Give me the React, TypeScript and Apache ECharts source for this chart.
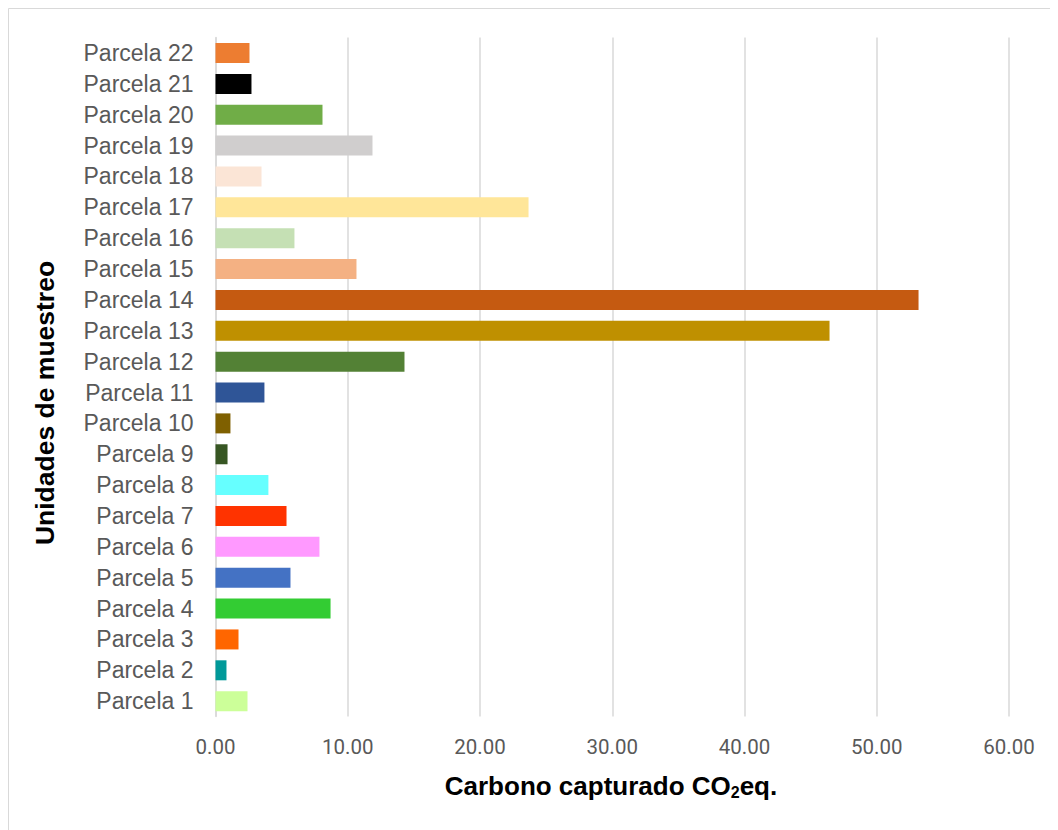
import React, { useEffect, useRef } from "react";
import * as echarts from "echarts";

const categories = [
  "Parcela 1", "Parcela 2", "Parcela 3", "Parcela 4", "Parcela 5", "Parcela 6",
  "Parcela 7", "Parcela 8", "Parcela 9", "Parcela 10", "Parcela 11", "Parcela 12",
  "Parcela 13", "Parcela 14", "Parcela 15", "Parcela 16", "Parcela 17", "Parcela 18",
  "Parcela 19", "Parcela 20", "Parcela 21", "Parcela 22",
];
const values = [
  2.42, 0.83, 1.74, 8.7, 5.67, 7.86, 5.37, 4.0, 0.91, 1.13, 3.7, 14.29,
  46.43, 53.16, 10.66, 5.97, 23.67, 3.48, 11.87, 8.09, 2.72, 2.57,
];
const colors = [
  "#CCFF99", "#009999", "#FF6600", "#33CC33", "#4472C4", "#FF99FF",
  "#FF3300", "#66FFFF", "#375623", "#7F6000", "#2F5597", "#538135",
  "#BF9000", "#C55A11", "#F4B183", "#C5E0B4", "#FFE699", "#FBE5D6",
  "#D0CECE", "#70AD47", "#000000", "#ED7D31",
];
const xTitle = "Carbono capturado CO";
const yTitle = "Unidades de muestreo";

export default function App() {
  const ref = useRef<HTMLDivElement>(null);
  useEffect(() => {
    if (!ref.current) return;
    const chart = echarts.init(ref.current, null, { renderer: "svg" });
    chart.setOption({
      animation: false,
      backgroundColor: "#ffffff",
      grid: { left: 207.5, top: 29.6, width: 793.5, height: 679, containLabel: false },
      xAxis: {
        type: "value",
        min: 0,
        max: 60,
        interval: 10,
        axisLine: { show: false },
        axisTick: { show: false },
        splitLine: { show: true, lineStyle: { color: "#d9d9d9", width: 1.5 } },
        axisLabel: {
          formatter: (v: number) => v.toFixed(2),
          color: "#595959",
          fontFamily: "Roboto",
          fontSize: 20.5,
          margin: 20,
        },
      },
      yAxis: {
        type: "category",
        data: categories,
        axisLine: { show: true, lineStyle: { color: "#d9d9d9", width: 1.5 } },
        axisTick: { show: false },
        axisLabel: {
          interval: 0,
          hideOverlap: false,
          color: "#595959",
          fontFamily: "Liberation Sans, Arial, sans-serif",
          fontSize: 23,
          margin: 22,
        },
      },
      series: [
        {
          type: "bar",
          barWidth: 20,
          data: values.map((v, i) => ({ value: v, itemStyle: { color: colors[i] } })),
        },
      ],
      graphic: [
        { type: "line", shape: { x1: 0.5, y1: 0.5, x2: 1050, y2: 0.5 }, style: { stroke: "#d9d9d9", lineWidth: 1 } },
        { type: "line", shape: { x1: 0.5, y1: 0.5, x2: 0.5, y2: 822 }, style: { stroke: "#d9d9d9", lineWidth: 1 } },
        {
          type: "text",
          x: 603,
          y: 778,
          style: {
            text: "{a|" + xTitle + "}{s|2}{a|eq.}",
            align: "center",
            verticalAlign: "middle",
            rich: {
              a: { fontFamily: "Liberation Sans", fontWeight: "bold", fontSize: 26, fill: "#000" },
              s: { fontFamily: "Liberation Sans", fontWeight: "bold", fontSize: 16, fill: "#000", padding: [12, 0, 0, 0] },
            },
          },
        },
        {
          type: "text",
          x: 37,
          y: 395,
          rotation: Math.PI / 2,
          style: {
            text: yTitle,
            align: "center",
            verticalAlign: "middle",
            fontFamily: "Liberation Sans",
            fontWeight: "bold",
            fontSize: 26.5,
            fill: "#000",
          },
        },
      ],
    });
    return () => chart.dispose();
  }, []);
  return <div ref={ref} style={{ width: 1050, height: 822 }} />;
}
